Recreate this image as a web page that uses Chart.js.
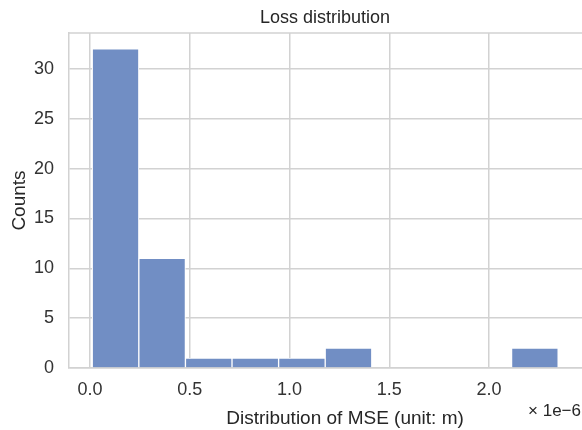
<!DOCTYPE html>
<html>
<head>
<meta charset="utf-8">
<script src="https://cdn.jsdelivr.net/npm/chart.js@4/dist/chart.umd.min.js"></script>
<style>
  html, body { margin: 0; padding: 0; background: #ffffff; }
  canvas { display: block; }
</style>
</head>
<body>
<canvas id="chart" width="582" height="430"></canvas>
<script>
// Histogram of per-sample MSE values, x values in units of 1e-6
const binEdges = [0.0115, 0.2450, 0.4785, 0.7120, 0.9455, 1.1790, 1.4125, 1.6460, 1.8795, 2.1130, 2.3465];
const binCounts = [32, 11, 1, 1, 1, 2, 0, 0, 0, 2];
const xTickValues = [0.0, 0.5, 1.0, 1.5, 2.0];
const yTickValues = [0, 5, 10, 15, 20, 25, 30];
const xRange = [-0.105, 2.466];
const yRange = [0, 33.6];

const chartTitle = 'Loss distribution';
const xAxisLabel = 'Distribution of MSE (unit: m)';
const yAxisLabel = 'Counts';
const xOffsetLabel = '\u00d7 1e\u22126';

const FONT = '"Liberation Sans", Arial, Helvetica, sans-serif';
const TEXT_COLOR = '#262626';
const GRID_COLOR = '#d2d2d2';
const BAR_COLOR = 'rgb(113, 142, 196)';

// one bar per bin, centred between its edges
const histogram = binCounts.map((count, i) => ({
  x: (binEdges[i] + binEdges[i + 1]) / 2,
  y: count
}));

// top spine plus free-standing labels (title, x label, exponent)
const frameAndText = {
  id: 'frameAndText',
  beforeDatasetsDraw(chart) {
    const { ctx, chartArea } = chart;
    ctx.save();
    ctx.strokeStyle = GRID_COLOR;
    ctx.lineWidth = 1.5;
    ctx.beginPath();
    ctx.moveTo(chartArea.left, chartArea.top);
    ctx.lineTo(chartArea.right, chartArea.top);
    ctx.stroke();
    ctx.restore();
  },
  afterDraw(chart) {
    const { ctx, chartArea } = chart;
    ctx.save();
    ctx.fillStyle = TEXT_COLOR;
    ctx.textBaseline = 'middle';

    ctx.textAlign = 'center';
    ctx.font = '18px ' + FONT;
    ctx.fillText(chartTitle, chartArea.left + 256, 18);

    ctx.font = '19px ' + FONT;
    ctx.fillText(xAxisLabel, chartArea.left + 276, 419);

    ctx.textAlign = 'right';
    ctx.font = '17px ' + FONT;
    ctx.fillText(xOffsetLabel, chart.width - 1, 411);
    ctx.restore();
  }
};

new Chart(document.getElementById('chart'), {
  type: 'bar',
  data: {
    datasets: [{
      label: 'Counts',
      data: histogram,
      backgroundColor: BAR_COLOR,
      borderColor: '#ffffff',
      borderWidth: 1,
      barPercentage: 1.0,
      categoryPercentage: 1.0
    }]
  },
  options: {
    responsive: false,
    animation: false,
    layout: { padding: { top: 33, left: 0, right: 0, bottom: 0 } },
    plugins: {
      legend: { display: false },
      title: { display: false },
      tooltip: { enabled: false }
    },
    scales: {
      x: {
        type: 'linear',
        offset: false,
        min: xRange[0],
        max: xRange[1],
        afterBuildTicks: (scale) => { scale.ticks = xTickValues.map(v => ({ value: v })); },
        afterFit: (scale) => { scale.height = 62; },
        grid: { color: GRID_COLOR, lineWidth: 1.5, drawTicks: false, offset: false },
        border: { color: GRID_COLOR, width: 1.5 },
        ticks: {
          color: '#333333',
          font: { family: FONT, size: 18 },
          padding: 11,
          maxRotation: 0,
          callback: (v) => Number(v).toFixed(1)
        }
      },
      y: {
        type: 'linear',
        min: yRange[0],
        max: yRange[1],
        afterBuildTicks: (scale) => { scale.ticks = yTickValues.map(v => ({ value: v })); },
        afterFit: (scale) => { scale.width = 69; },
        grid: { color: GRID_COLOR, lineWidth: 1.5, drawTicks: false },
        border: { color: GRID_COLOR, width: 1.5 },
        ticks: {
          color: '#333333',
          font: { family: FONT, size: 18 },
          padding: 15
        },
        title: {
          display: true,
          text: yAxisLabel,
          color: TEXT_COLOR,
          font: { family: FONT, size: 19 },
          padding: { top: 8.5, bottom: 0 }
        }
      }
    }
  },
  plugins: [frameAndText]
});
</script>
</body>
</html>
